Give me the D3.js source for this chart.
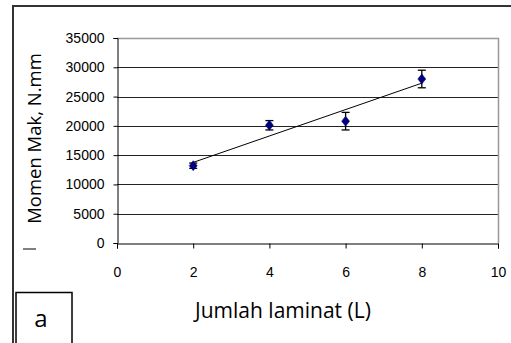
<!DOCTYPE html>
<html lang="en">
<head>
    <meta charset="UTF-8">
    <title>Momen Mak vs Jumlah laminat</title>
    <script src="https://d3js.org/d3.v7.min.js"></script>
    <style>
        body { margin: 0; background: #fff; }
        svg { display: block; }
        .tick-label { font-family: "Liberation Sans", Arial, sans-serif; font-size: 14px; fill: #000; }
        .title { font-family: "Open Sans", "Noto Sans", sans-serif; fill: #000; }
    </style>
</head>
<body>
    <svg width="511" height="343"></svg>

    <script>
        // Data
        const laminat = [2, 4, 6, 8];
        const momen = [13200, 20100, 20800, 28000];
        const errBar = [450, 800, 1500, 1500];
        const xTicks = [0, 2, 4, 6, 8, 10];
        const yTicks = [0, 5000, 10000, 15000, 20000, 25000, 30000, 35000];

        const svg = d3.select("svg");
        const plotL = 117, plotR = 498, plotT = 38, plotB = 243;

        const x = d3.scaleLinear().domain([0, 10]).range([plotL, plotR]);
        const y = d3.scaleLinear().domain([0, 35000]).range([plotB, plotT]);

        // Outer frame
        svg.append("path")
            .attr("d", `M13,343 V6 H511`)
            .attr("fill", "none")
            .attr("stroke", "#333")
            .attr("stroke-width", 2);

        // Gridlines
        svg.append("g").selectAll("line")
            .data(yTicks.filter(d => d > 0 && d < 35000))
            .join("line")
            .attr("x1", plotL).attr("x2", plotR)
            .attr("y1", d => Math.round(y(d)) + 0.5).attr("y2", d => Math.round(y(d)) + 0.5)
            .attr("stroke", "#222").attr("stroke-width", 1);

        // Plot area border (top/right)
        svg.append("path")
            .attr("d", `M${plotL},${Math.round(plotT) + 0.5} H${plotR + 0.5} V${plotB}`)
            .attr("fill", "none")
            .attr("stroke", "#999")
            .attr("stroke-width", 1.5);

        // Y axis
        const yAxis = svg.append("g")
            .attr("transform", `translate(${plotL + 0.5},0)`)
            .call(d3.axisLeft(y).tickValues(yTicks).tickSize(4).tickPadding(9).tickFormat(d3.format("d")));
        yAxis.select(".domain").attr("stroke", "#000");
        yAxis.selectAll(".tick line").attr("stroke", "#000");
        yAxis.selectAll("text").attr("class", "tick-label");
        yAxis.attr("font-size", null).attr("font-family", null);

        // X axis
        const xAxis = svg.append("g")
            .attr("transform", `translate(0,${plotB + 0.5})`)
            .call(d3.axisBottom(x).tickValues(xTicks).tickSize(5).tickPadding(19).tickFormat(d3.format("d")));
        xAxis.select(".domain").attr("stroke", "#000");
        xAxis.selectAll(".tick line").attr("stroke", "#000");
        xAxis.selectAll("text").attr("class", "tick-label");
        xAxis.attr("font-size", null).attr("font-family", null);

        // Linear trendline (least squares) over data range
        const mx = d3.mean(laminat), my = d3.mean(momen);
        const slope = d3.sum(laminat, (d, i) => (d - mx) * (momen[i] - my)) / d3.sum(laminat, d => (d - mx) ** 2);
        const icpt = my - slope * mx;
        const ext = d3.extent(laminat);
        svg.append("line")
            .attr("x1", x(ext[0])).attr("y1", y(icpt + slope * ext[0]))
            .attr("x2", x(ext[1])).attr("y2", y(icpt + slope * ext[1]))
            .attr("stroke", "#000").attr("stroke-width", 1);

        // Error bars
        const eb = svg.append("g").attr("stroke", "#000").attr("stroke-width", 1.3);
        laminat.forEach((L, i) => {
            const cx = x(L);
            const y1 = y(momen[i] + errBar[i]), y2 = y(momen[i] - errBar[i]);
            eb.append("line").attr("x1", cx).attr("x2", cx).attr("y1", y1).attr("y2", y2);
            eb.append("line").attr("x1", cx - 4).attr("x2", cx + 4).attr("y1", y1).attr("y2", y1);
            eb.append("line").attr("x1", cx - 4).attr("x2", cx + 4).attr("y1", y2).attr("y2", y2);
        });

        // Diamond markers
        svg.append("g").selectAll("path")
            .data(laminat)
            .join("path")
            .attr("transform", (d, i) => `translate(${x(d)},${y(momen[i])})`)
            .attr("d", "M0,-5 L4,0 L0,5 L-4,0 Z")
            .attr("fill", "#000080")
            .attr("stroke", "#000060")
            .attr("stroke-width", 0.5);

        // Axis titles
        svg.append("text")
            .attr("class", "title")
            .attr("transform", `translate(41,138.5) rotate(-90)`)
            .attr("text-anchor", "middle")
            .attr("font-size", 18.5)
            .text("Momen Mak, N.mm");

        svg.append("line")
            .attr("x1", 23).attr("x2", 36).attr("y1", 249).attr("y2", 249)
            .attr("stroke", "#000").attr("stroke-width", 1);

        svg.append("text")
            .attr("class", "title")
            .attr("x", 283).attr("y", 318)
            .attr("text-anchor", "middle")
            .attr("font-size", 21)
            .text("Jumlah laminat (L)");

        // Panel label box
        svg.append("rect")
            .attr("x", 16).attr("y", 292.5).attr("width", 56).attr("height", 60)
            .attr("fill", "#fff").attr("stroke", "#000").attr("stroke-width", 1.5);
        svg.append("text")
            .attr("class", "title")
            .attr("x", 41).attr("y", 327)
            .attr("text-anchor", "middle")
            .attr("font-size", 24)
            .text("a");
    </script>
</body>
</html>
